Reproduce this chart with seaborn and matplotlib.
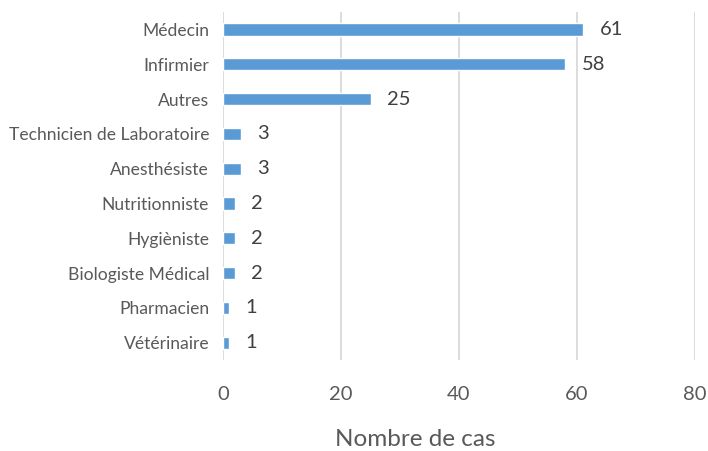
import matplotlib
matplotlib.use("Agg")
import matplotlib.pyplot as plt
import seaborn as sns
import pandas as pd

categories = ["Médecin", "Infirmier", "Autres", "Technicien de Laboratoire",
              "Anesthésiste", "Nutritionniste", "Hygièniste", "Biologiste Médical",
              "Pharmacien", "Vétérinaire"]
values = [61, 58, 25, 3, 3, 2, 2, 2, 1, 1]
xticks = [0, 20, 40, 60, 80]

df = pd.DataFrame({"cat": categories, "val": values})

sns.set_theme(style="white")
plt.rcParams['font.family'] = ['Lato', 'DejaVu Sans']

fig = plt.figure(figsize=(7.08, 4.51), dpi=100)
ax = fig.add_axes([0.315, 0.2018, 0.6666, 0.7712])

sns.barplot(data=df, y="cat", x="val", orient="h", color="#5B9BD5",
            saturation=1, width=0.35, ax=ax, zorder=3)

for i, v in enumerate(values):
    ax.annotate(str(v), xy=(v, i), xytext=(12, 0), textcoords="offset points",
                va="center", ha="left", fontsize=14.5, color="#404040")

ax.set_xlim(0, 80)
ax.set_ylim(9.5, -0.5)
ax.set_xticks(xticks)
ax.set_xticklabels([str(t) for t in xticks], fontsize=14.5, color="#595959")
ax.tick_params(axis="x", pad=19, length=0)
ax.tick_params(axis="y", pad=10, length=0, labelsize=12.6, labelcolor="#595959")
ax.set_ylabel("")
ax.set_xlabel("Nombre de cas", fontsize=17.5, color="#595959", va="center")
ax.xaxis.set_label_coords(0.407, -0.228)
ax.grid(axis="x", color="#d9d9d9", linewidth=1.3, zorder=0)
ax.grid(axis="y", visible=False)
for s in ax.spines.values():
    s.set_visible(False)

fig.savefig("out.png", dpi=100)
